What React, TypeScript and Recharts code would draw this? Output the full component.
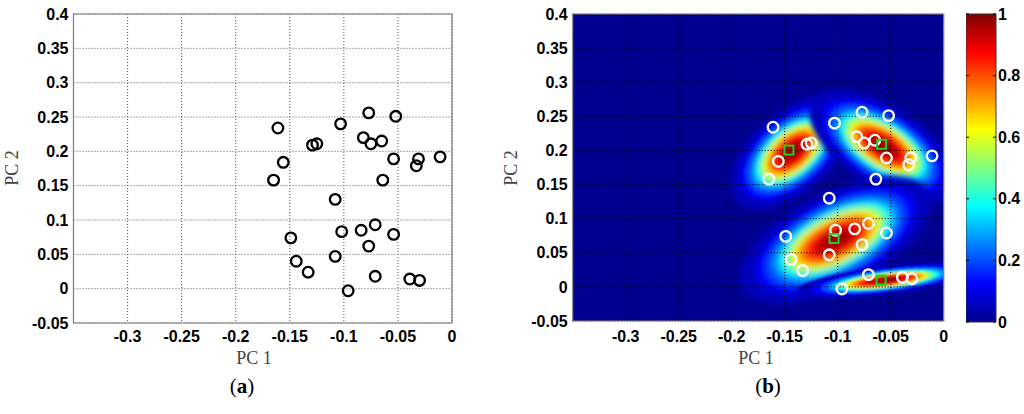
import React from 'react';
import {
    ScatterChart,
    Scatter,
    XAxis,
    YAxis,
    CartesianGrid,
    ReferenceArea,
    BarChart,
    Bar,
} from 'recharts';

// scores on the first two principal components
const pc1 = [
    -0.161, -0.156, -0.165, -0.129, -0.125, -0.103, -0.077, -0.052, -0.082, -0.075,
    -0.065, -0.054, -0.031, -0.033, -0.011, -0.064, -0.108, -0.102, -0.084, -0.071,
    -0.054, -0.077, -0.108, -0.149, -0.144, -0.133, -0.096, -0.071, -0.039, -0.03,
];
const pc2 = [
    0.234, 0.184, 0.158, 0.209, 0.211, 0.24, 0.256, 0.251, 0.22, 0.211,
    0.215, 0.189, 0.189, 0.179, 0.192, 0.158, 0.13, 0.083, 0.085, 0.093,
    0.079, 0.062, 0.047, 0.074, 0.04, 0.024, -0.003, 0.018, 0.014, 0.012,
];

// cluster centres (green squares)
const centreX = [-0.146, -0.0586, -0.1035, -0.059];
const centreY = [0.2005, 0.209, 0.071, 0.01];

// density peaks of the heat map (one per cluster)
const peakX = [-0.1434, -0.057, -0.1019, -0.0538];
const peakY = [0.1975, 0.2057, 0.0689, 0.0098];

const xTicks = [-0.3, -0.25, -0.2, -0.15, -0.1, -0.05, 0];
const yTicks = [-0.05, 0, 0.05, 0.1, 0.15, 0.2, 0.25, 0.3, 0.35, 0.4];
const colorTicks = [0, 0.2, 0.4, 0.6, 0.8, 1];

// ---- styling ----
const BLOB_SHAPE = [
    { rx: 42, ry: 23, rot: -41, blur: 2.5 },
    { rx: 48, ry: 23, rot: 33, blur: 2.5 },
    { rx: 60, ry: 27, rot: -27, blur: 3 },
    { rx: 52, ry: 8, rot: -7, blur: 1.3 },
];
const BANDS = [
    { v: 0.06, s: 1.75 },
    { v: 0.13, s: 1.45 },
    { v: 0.2, s: 1.27 },
    { v: 0.28, s: 1.13 },
    { v: 0.36, s: 1.03 },
    { v: 0.44, s: 0.95 },
    { v: 0.52, s: 0.88 },
    { v: 0.6, s: 0.81 },
    { v: 0.68, s: 0.74 },
    { v: 0.76, s: 0.66 },
    { v: 0.84, s: 0.56 },
    { v: 0.92, s: 0.42 },
    { v: 0.98, s: 0.24 },
];

const clamp = (n: number) => Math.max(0, Math.min(1, n));
const jet = (v: number) => {
    const r = clamp(1.5 - Math.abs(4 * v - 3));
    const g = clamp(1.5 - Math.abs(4 * v - 2));
    const b = clamp(1.5 - Math.abs(4 * v - 1));
    return `rgb(${Math.round(r * 255)},${Math.round(g * 255)},${Math.round(b * 255)})`;
};

const points = pc1.map((x, i) => ({ x, y: pc2[i] }));
const centres = centreX.map((x, i) => ({ x, y: centreY[i] }));
const peaks = peakX.map((x, i) => ({ x, y: peakY[i], k: i }));

const tickText: React.CSSProperties = {
    fontFamily: '"Liberation Sans", Arial, sans-serif',
    fontWeight: 700,
    fontSize: 16,
    fill: '#000',
};
const labelStyle: React.CSSProperties = {
    position: 'absolute',
    fontFamily: '"Liberation Serif", "Times New Roman", serif',
    fontSize: 18,
    color: '#444',
    whiteSpace: 'nowrap',
    lineHeight: 1,
};

const XTick = ({ x, y, payload }: any) => (
    <text x={x} y={y} dy="0.71em" textAnchor="middle" style={tickText}>
        {payload.value}
    </text>
);
const YTick = ({ x, y, payload }: any) => (
    <text x={x} y={y} dy="0.355em" textAnchor="end" style={tickText}>
        {payload.value}
    </text>
);
const ColorTick = ({ x, y, payload }: any) => (
    <g>
        <line x1={x - 30} x2={x - 27} y1={y} y2={y} stroke="#000" />
        <line x1={x - 3} x2={x} y1={y} y2={y} stroke="#000" />
        <text x={x + 2} y={y} dy="0.355em" textAnchor="start" style={tickText}>
            {payload.value}
        </text>
    </g>
);

const blackCircle = (p: any) => (
    <circle cx={p.cx} cy={p.cy} r={5.3} fill="none" stroke="#000" strokeWidth={2.3} />
);
const whiteCircle = (p: any) => (
    <circle cx={p.cx} cy={p.cy} r={5.3} fill="none" stroke="#fff" strokeWidth={2.3} />
);
const greenSquare = (p: any) => (
    <rect x={p.cx - 4.5} y={p.cy - 4.5} width={9} height={9} fill="none" stroke="#1ed21e" strokeWidth={2} />
);
const blob = (p: any) => {
    const k = p.payload?.k ?? p.k;
    const s = BLOB_SHAPE[k];
    return (
        <g filter={`url(#blur${k})`} transform={`translate(${p.cx},${p.cy}) rotate(${s.rot})`}>
            {BANDS.map((b, i) => (
                <ellipse key={i} cx={0} cy={0} rx={s.rx * b.s} ry={s.ry * b.s} fill={jet(b.v)} />
            ))}
        </g>
    );
};

function Panel({ heat }: { heat: boolean }) {
    const frame = heat ? '#888' : '#7a7a7a';
    return (
        <ScatterChart
            width={470}
            height={360}
            margin={heat ? { top: 14, right: 16.3, bottom: 7, left: 0 } : { top: 14, right: 18, bottom: 7, left: 0 }}
        >
            <XAxis
                type="number"
                dataKey="x"
                domain={[-0.35, 0]}
                ticks={xTicks}
                allowDataOverflow
                axisLine={false}
                tickLine={false}
                tickSize={0}
                tickMargin={heat ? 10 : 8}
                height={heat ? 32 : 30}
                tick={<XTick />}
            />
            <YAxis
                type="number"
                dataKey="y"
                domain={[-0.05, 0.4]}
                ticks={yTicks}
                allowDataOverflow
                axisLine={false}
                tickLine={false}
                tickSize={0}
                tickMargin={5}
                width={heat ? 82.7 : 73.5}
                tick={<YTick />}
            />
            {heat && <CartesianGrid horizontal={false} vertical={false} fill="#00008f" fillOpacity={1} />}
            {heat && <Scatter data={peaks} shape={blob} isAnimationActive={false} />}
            <CartesianGrid
                stroke={heat ? '#000' : '#555'}
                strokeDasharray="1 2"
                fill="none"
                zIndex={650}
            />
            <ReferenceArea x1={-0.35} x2={0} y1={-0.05} y2={0.4} fill="none" stroke={frame} strokeWidth={1.2} zIndex={660} />
            <Scatter
                data={points}
                shape={heat ? whiteCircle : blackCircle}
                isAnimationActive={false}
                zIndex={700}
            />
            {heat && <Scatter data={centres} shape={greenSquare} isAnimationActive={false} zIndex={710} />}
        </ScatterChart>
    );
}

export default function App() {
    return (
        <div style={{ position: 'absolute', left: 0, top: 0, width: 1024, height: 414, background: '#fff', overflow: 'hidden' }}>
            <svg width={0} height={0} style={{ position: 'absolute' }}>
                <defs>
                    <linearGradient id="jetGrad" x1="0" y1="1" x2="0" y2="0">
                        <stop offset="0%" stopColor="#00008f" />
                        <stop offset="12.5%" stopColor="#0000ff" />
                        <stop offset="37.5%" stopColor="#00ffff" />
                        <stop offset="62.5%" stopColor="#ffff00" />
                        <stop offset="87.5%" stopColor="#ff0000" />
                        <stop offset="100%" stopColor="#800000" />
                    </linearGradient>
                    {BLOB_SHAPE.map((s, i) => (
                        <filter key={i} id={`blur${i}`} filterUnits="userSpaceOnUse" x={-200} y={-200} width={900} height={800}>
                            <feGaussianBlur stdDeviation={s.blur} />
                        </filter>
                    ))}
                </defs>
            </svg>

            <div style={{ position: 'absolute', left: 0, top: 0 }}>
                <Panel heat={false} />
            </div>
            <div style={{ position: 'absolute', left: 490, top: 0 }}>
                <Panel heat />
            </div>
            <div style={{ position: 'absolute', left: 966, top: 0 }}>
                <BarChart width={58} height={360} data={[{ name: 'c', v: 1 }]} margin={{ top: 14, right: 0, bottom: 38, left: 0 }} barCategoryGap={0}>
                    <XAxis dataKey="name" hide />
                    <YAxis
                        orientation="right"
                        type="number"
                        domain={[0, 1]}
                        ticks={colorTicks}
                        width={28}
                        axisLine={false}
                        tickLine={false}
                        tickSize={0}
                        tickMargin={0}
                        tick={<ColorTick />}
                    />
                    <Bar dataKey="v" fill="url(#jetGrad)" stroke="#333" strokeWidth={1} isAnimationActive={false} />
                </BarChart>
            </div>

            <div style={{ ...labelStyle, left: 254, top: 358, transform: 'translate(-50%, -50%)' }}>PC 1</div>
            <div style={{ ...labelStyle, left: 12, top: 168, transform: 'translate(-50%, -50%) rotate(-90deg)' }}>PC 2</div>
            <div style={{ ...labelStyle, left: 756, top: 358, transform: 'translate(-50%, -50%)' }}>PC 1</div>
            <div style={{ ...labelStyle, left: 511, top: 168, transform: 'translate(-50%, -50%) rotate(-90deg)' }}>PC 2</div>

            <div style={{ ...labelStyle, left: 242, top: 386, fontSize: 21, color: '#000', transform: 'translate(-50%, -50%)' }}>
                (<b>a</b>)
            </div>
            <div style={{ ...labelStyle, left: 768, top: 386, fontSize: 21, color: '#000', transform: 'translate(-50%, -50%)' }}>
                (<b>b</b>)
            </div>
        </div>
    );
}
